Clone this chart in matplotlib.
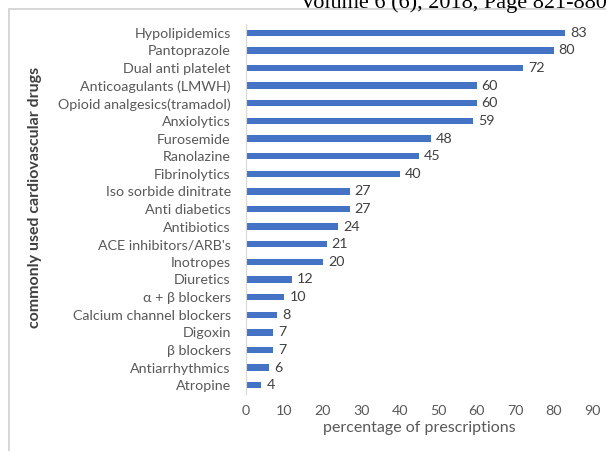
import matplotlib.pyplot as plt
from matplotlib.patches import Rectangle

plt.rcParams['font.family'] = ['Lato', 'DejaVu Sans']

# datos
drugs = ["Hypolipidemics", "Pantoprazole", "Dual anti platelet", "Anticoagulants (LMWH)",
         "Opioid analgesics(tramadol)", "Anxiolytics", "Furosemide", "Ranolazine",
         "Fibrinolytics", "Iso sorbide dinitrate", "Anti diabetics", "Antibiotics",
         "ACE inhibitors/ARB's", "Inotropes", "Diuretics", "\u03b1 + \u03b2 blockers",
         "Calcium channel blockers", "Digoxin", "\u03b2 blockers", "Antiarrhythmics", "Atropine"]
pct = [83, 80, 72, 60, 60, 59, 48, 45, 40, 27, 27, 24, 21, 20, 12, 10, 8, 7, 7, 6, 4]
xticks = [0, 10, 20, 30, 40, 50, 60, 70, 80, 90]

fig = plt.figure(figsize=(6.06, 4.51), dpi=100)
ax = fig.add_axes([246/606, 1 - 394/451, (592 - 246)/606, (394 - 24)/451])

y = list(range(len(drugs)))
ax.barh(y, pct, height=0.36, color='#4472C4')
for yi, v in zip(y, pct):
    ax.text(v + 1.3, yi, str(v), va='center', ha='left', fontsize=10.3, color='#404040')

ax.set_ylim(len(drugs) - 0.5, -0.5)
ax.set_xlim(0, 90)
ax.set_yticks(y)
ax.set_yticklabels(drugs, fontsize=10.3, color='#595959')
ax.set_xticks(xticks)
ax.set_xticklabels([str(t) for t in xticks], fontsize=10.3, color='#595959')
ax.tick_params(axis='both', length=0)
ax.tick_params(axis='y', pad=11)
ax.tick_params(axis='x', pad=8)
for s in ['top', 'right', 'bottom']:
    ax.spines[s].set_visible(False)
ax.spines['left'].set_color('#d9d9d9')

ax.set_xlabel("percentage of prescriptions", fontsize=11.5, color='#595959', labelpad=3)
fig.text(35/606, 1 - 197/451, "commonly used cardiovascular drugs", rotation=90,
         ha='center', va='center', fontsize=11.5, fontweight='bold', color='#404040')

# marco del gráfico
fig.patches.append(Rectangle((9/606, -0.1), 1.2, 1 - 9/451 + 0.1, transform=fig.transFigure,
                             fill=False, edgecolor='#d0d0d0', linewidth=1.2))

# encabezado cortado
fig.text(300/606, 1 - 8/451, "Volume 6 (6), 2018, Page 821-880", ha='left', va='baseline',
         fontsize=16, family='Liberation Serif', color='black')

fig.savefig("out.png", dpi=100)
